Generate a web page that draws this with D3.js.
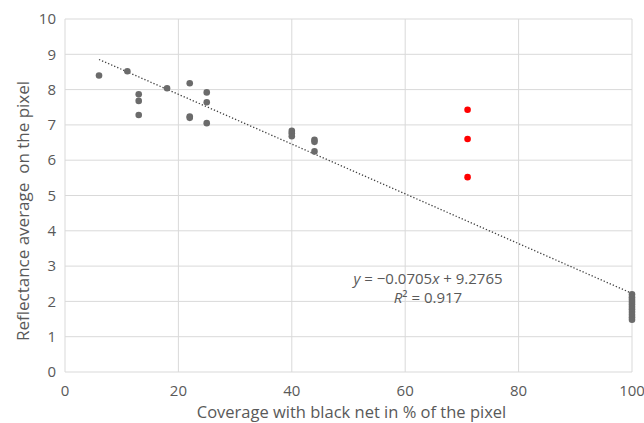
<!DOCTYPE html>
<html><head><meta charset="utf-8">
<script src="https://cdn.jsdelivr.net/npm/d3@7"></script>
<style>body{margin:0;background:#fff;} svg{display:block;font-family:"Open Sans",sans-serif;}</style>
</head><body>
<svg id="c" width="644" height="423"></svg>
<script>
const greyX = [6, 11, 13, 13, 13, 18, 22, 22, 22, 25, 25, 25, 40, 40, 40, 44, 44, 44,
  100, 100, 100, 100, 100, 100, 100, 100, 100, 100, 100];
const greyY = [8.4, 8.52, 7.87, 7.68, 7.28, 8.04, 8.18, 7.24, 7.2, 7.92, 7.64, 7.05, 6.83, 6.76, 6.68, 6.58, 6.52, 6.25,
  2.2, 2.12, 2.05, 1.98, 1.92, 1.85, 1.78, 1.7, 1.62, 1.55, 1.48];
const redX = [71, 71, 71];
const redY = [7.43, 6.6, 5.52];
const slope = -0.0705, intercept = 9.2765, r2 = 0.917;
const trendRange = [6, 100];
const xTicks = [0, 20, 40, 60, 80, 100];
const yTicks = [0,1,2,3,4,5,6,7,8,9,10];

const svg = d3.select("#c");
const x = d3.scaleLinear().domain([0,100]).range([65,632]);
const y = d3.scaleLinear().domain([0,10]).range([372,19]);
const txt = "#595959", grid = "#d9d9d9";

svg.append("g").selectAll("line").data(yTicks.filter(d=>d>0)).join("line")
  .attr("x1",x(0)).attr("x2",x(100)).attr("y1",d=>y(d)).attr("y2",d=>y(d))
  .attr("stroke",grid).attr("stroke-width",1);
svg.append("g").selectAll("line").data(xTicks.filter(d=>d>0)).join("line")
  .attr("x1",d=>x(d)).attr("x2",d=>x(d)).attr("y1",y(0)).attr("y2",y(10))
  .attr("stroke",grid).attr("stroke-width",1);
svg.append("line").attr("x1",x(0)).attr("x2",x(100)).attr("y1",y(0)).attr("y2",y(0)).attr("stroke",grid);
svg.append("line").attr("x1",x(0)).attr("x2",x(0)).attr("y1",y(0)).attr("y2",y(10)).attr("stroke",grid);

svg.append("g").selectAll("text").data(yTicks).join("text")
  .attr("x",x(0)-9).attr("y",d=>y(d)).attr("dy","0.35em").attr("text-anchor","end")
  .attr("fill",txt).attr("font-size",15).text(d=>d);
svg.append("g").selectAll("text").data(xTicks).join("text")
  .attr("x",d=>x(d)).attr("y",y(0)+19).attr("dy","0.35em").attr("text-anchor","middle")
  .attr("fill",txt).attr("font-size",15).text(d=>d);

svg.append("text").attr("x",x(50)+3).attr("y",418).attr("text-anchor","middle")
  .attr("fill",txt).attr("font-size",16.5).text("Coverage with black net in % of the pixel");
svg.append("text").attr("transform",`translate(29,211) rotate(-90)`).attr("text-anchor","middle")
  .attr("fill",txt).attr("font-size",17).attr("xml:space","preserve").text("Reflectance average  on the pixel");

svg.append("line").attr("x1",x(trendRange[0])).attr("y1",y(slope*trendRange[0]+intercept))
  .attr("x2",x(trendRange[1])).attr("y2",y(slope*trendRange[1]+intercept))
  .attr("stroke","#404040").attr("stroke-width",1.3).attr("stroke-dasharray","1.3,2");

svg.append("g").selectAll("circle").data(greyX.map((d,i)=>[d,greyY[i]])).join("circle")
  .attr("cx",d=>x(d[0])).attr("cy",d=>y(d[1])).attr("r",3.3).attr("fill","#6b6b6b");
svg.append("g").selectAll("circle").data(redX.map((d,i)=>[d,redY[i]])).join("circle")
  .attr("cx",d=>x(d[0])).attr("cy",d=>y(d[1])).attr("r",3.3).attr("fill","#ff0000");

const eq = svg.append("text").attr("x",428).attr("y",284).attr("text-anchor","middle").attr("fill",txt).attr("font-size",15);
eq.append("tspan").attr("font-style","italic").text("y");
eq.append("tspan").text(" = \u2212" + Math.abs(slope) + "");
eq.append("tspan").attr("font-style","italic").text("x");
eq.append("tspan").text(" + " + intercept);
const r = svg.append("text").attr("x",428).attr("y",303).attr("text-anchor","middle").attr("fill",txt).attr("font-size",15);
r.append("tspan").attr("font-style","italic").text("R");
r.append("tspan").text("\u00B2 = " + r2);
</script>
</body></html>
